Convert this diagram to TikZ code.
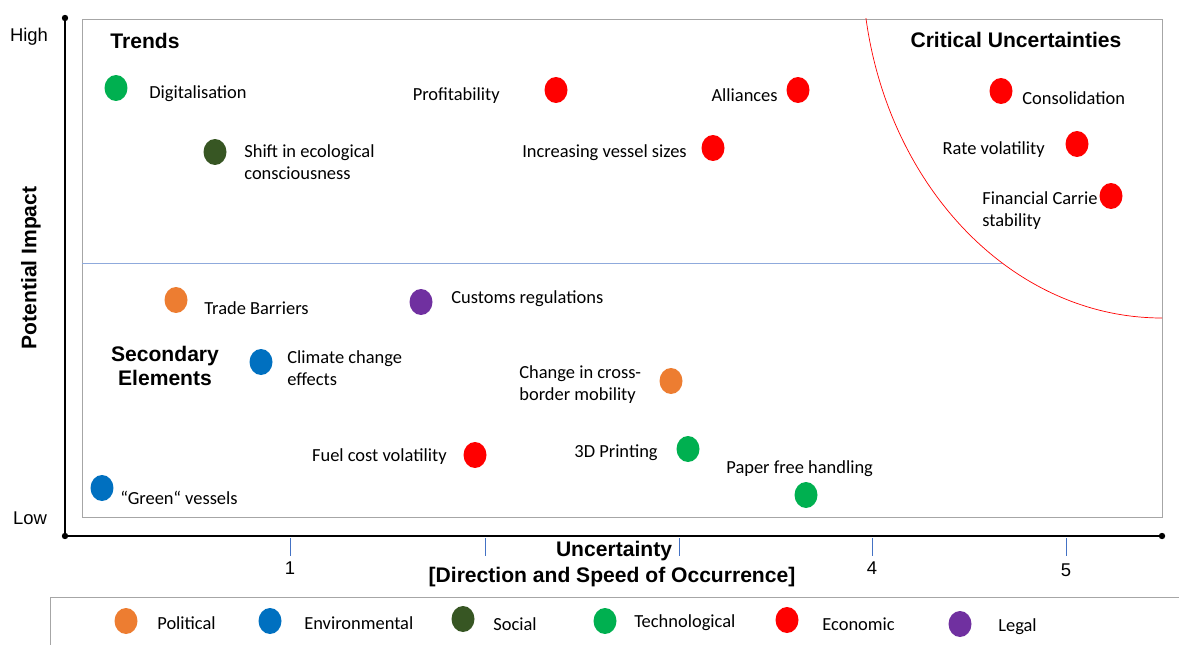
\documentclass[tikz,border=0pt]{standalone}
\usepackage{fontspec}
\setmainfont{Carlito}
\newfontfamily\arial{Liberation Sans}
\usetikzlibrary{shapes.geometric}

\definecolor{polcol}{HTML}{ED7D31}
\definecolor{envcol}{HTML}{0070C0}
\definecolor{soccol}{HTML}{375623}
\definecolor{teccol}{HTML}{00B050}
\definecolor{ecocol}{HTML}{FF0000}
\definecolor{legcol}{HTML}{7030A0}
\definecolor{framecol}{HTML}{A6A6A6}
\definecolor{tickcol}{HTML}{4472C4}
\definecolor{splitcol}{HTML}{8FAADC}

\tikzset{
  dot/.style = {ellipse, fill=#1, draw=none, inner sep=0pt,
                minimum width=0.46cm, minimum height=0.52cm},
  lbl/.style = {font=\fontsize{10.5}{12.5}\selectfont, inner sep=0pt, align=left, yshift=-1.2pt},
  quadrant/.style = {font=\arial\bfseries\fontsize{12}{14}\selectfont, inner sep=0pt, align=center},
  scale label/.style = {font=\arial\fontsize{10.5}{12}\selectfont, inner sep=0pt},
}

\begin{document}
\begin{tikzpicture}[x=0.02cm, y=-0.02cm]
	\useasboundingbox (0,0) rectangle (1179,645);
	% frame, split line and the critical zone
	\draw [framecol] (82,19) rectangle (1162,517);
	\draw [splitcol] (82,263) -- (1002,263);
	\begin{scope}
		\clip (82,19) rectangle (1162,517);
		\draw [red] (1162,-40) ellipse [x radius=300, y radius=358];
	\end{scope}
	% axes
	\draw [line width=0.9pt] (65,18) -- (65,536) -- (1162,536);
	\fill (65,18) circle (3.2) (65,536) circle (3.2) (1162,536) circle (3.2);
	\foreach \t in {290,485,679,872,1066}
		\draw [tickcol] (\t,538) -- (\t,556);
	\node [scale label] (one) at (290,568) {1};
	\node [scale label] (four) at (872,568) {4};
	\node [scale label] (five) at (1066,570) {5};
	\node [scale label] (high) at (29,37) {High};
	\node [scale label] (low) at (30,518) {Low};
	\node [quadrant, rotate=90] (impact) at (31,268) {Potential Impact};
	\node [quadrant] (uncert) at (614,551) {Uncertainty};
	\node [quadrant] (speed) at (612,577) {[Direction and Speed of Occurrence]};
	% quadrant titles
	\node [quadrant] (trends) at (145,41) {Trends};
	\node [quadrant] (critical) at (1016,40) {Critical Uncertainties};
	\node [quadrant] (secondary) at (165,366) {Secondary\\Elements};
	% drivers
	\node [dot=teccol] (digit) at (116,88) {};
	\node [lbl, anchor=west] (digitl) at (149,92) {Digitalisation};
	\node [dot=soccol] (eco) at (215,152) {};
	\node [lbl, anchor=west] (ecol) at (244,160) {Shift in ecological\\consciousness};
	\node [dot=ecocol] (profit) at (556,90) {};
	\node [lbl, anchor=east] (profitl) at (500,93) {Profitability};
	\node [dot=ecocol] (alli) at (798,90) {};
	\node [lbl, anchor=east] (allil) at (778,93) {Alliances};
	\node [dot=ecocol] (sizes) at (713,148) {};
	\node [lbl, anchor=east] (sizesl) at (687,151) {Increasing vessel sizes};
	\node [dot=ecocol] (consol) at (1001,91) {};
	\node [lbl, anchor=west] (consoll) at (1022,96) {Consolidation};
	\node [dot=ecocol] (rate) at (1077,144) {};
	\node [lbl, anchor=east] (ratel) at (1045,147) {Rate volatility};
	\node [lbl, anchor=west] (finl) at (982,208) {Financial Carrie\\stability};
	\node [dot=ecocol] (fin) at (1111,196) {};
	\node [dot=polcol] (trade) at (176,300) {};
	\node [lbl, anchor=west] (tradel) at (204,306) {Trade Barriers};
	\node [dot=legcol] (customs) at (421,302) {};
	\node [lbl, anchor=west] (customsl) at (451,297) {Customs regulations};
	\node [dot=envcol] (climate) at (261,362) {};
	\node [lbl, anchor=west] (climatel) at (287,366) {Climate change\\effects};
	\node [dot=polcol] (mobil) at (671,381) {};
	\node [lbl, anchor=west] (mobill) at (519,382) {Change in cross-\\border mobility};
	\node [dot=ecocol] (fuel) at (475,455) {};
	\node [lbl, anchor=east] (fuell) at (447,454) {Fuel cost volatility};
	\node [dot=teccol] (print) at (688,449) {};
	\node [lbl, anchor=east] (printl) at (658,451) {3D Printing};
	\node [dot=teccol] (paper) at (806,495) {};
	\node [lbl, anchor=west] (paperl) at (726,467) {Paper free handling};
	\node [dot=envcol] (green) at (102,488) {};
	\node [lbl, anchor=west] (greenl) at (120,496) {“Green“ vessels};
	% legend
	\draw [framecol] (1179,597) -- (50,597) -- (50,645);
	\node [dot=polcol] (kpol) at (126,621) {};
	\node [lbl, anchor=west] (kpoll) at (157,621) {Political};
	\node [dot=envcol] (kenv) at (270,621) {};
	\node [lbl, anchor=west] (kenvl) at (304,621) {Environmental};
	\node [dot=soccol] (ksoc) at (463,619) {};
	\node [lbl, anchor=west] (ksocl) at (493,622) {Social};
	\node [dot=teccol] (ktec) at (605,621) {};
	\node [lbl, anchor=west] (ktecl) at (634,621) {Technological};
	\node [dot=ecocol] (keco) at (787,620) {};
	\node [lbl, anchor=west] (kecol) at (822,622) {Economic};
	\node [dot=legcol] (kleg) at (960,624) {};
	\node [lbl, anchor=west] (klegl) at (998,625) {Legal};
\end{tikzpicture}
\end{document}
